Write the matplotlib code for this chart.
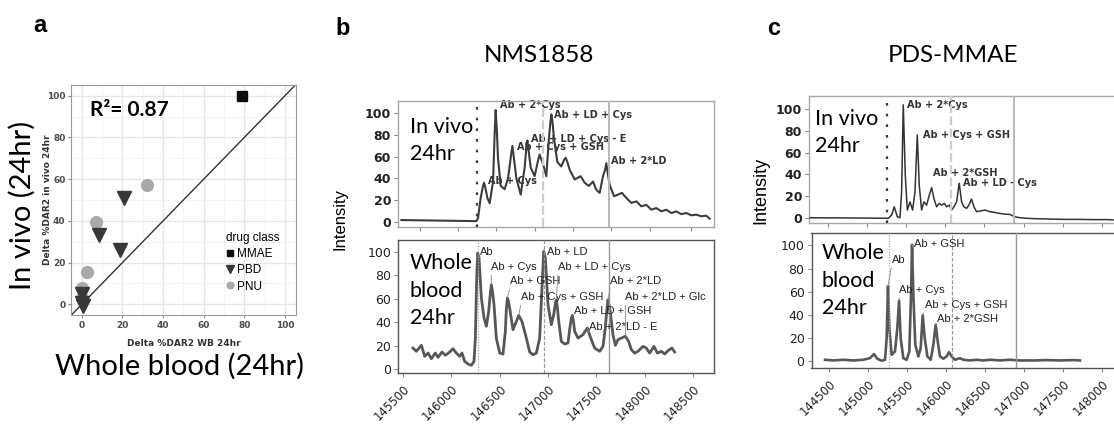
import numpy as np
import matplotlib
matplotlib.use('Agg')
import matplotlib.pyplot as plt
from matplotlib.lines import Line2D
from matplotlib.ticker import FormatStrFormatter, MultipleLocator

plt.rcParams['font.family'] = ['Liberation Sans', 'DejaVu Sans']

# ---- a: delta %DAR2, whole blood vs in vivo (24hr)
mmae_wb = [79]
mmae_vivo = [100]
pbd_wb = [21, 8.5, 19, 0, 0, 0.5]
pbd_vivo = [51, 33, 26, 5, 0.5, -1]
pnu_wb = [32, 7, 2.8, 0.2, 0]
pnu_vivo = [57, 39.5, 15.6, 7.8, 3]
r2_text = 'R²= 0.87'

# ---- b: NMS1858 deconvoluted spectra
nms_vivo_mass = [145483, 145900, 146258, 146276, 146303, 146325, 146338, 146350, 146372, 146396,
                 146431, 146447, 146458, 146470, 146482, 146510, 146551, 146586, 146618, 146631,
                 146645, 146672, 146717, 146758, 146775, 146786, 146798, 146820, 146861, 146900,
                 146913, 146928, 146948, 146982, 147006, 147022, 147034, 147046, 147061, 147096,
                 147137, 147165, 147182, 147200, 147223, 147275, 147337, 147378, 147420, 147465,
                 147499, 147534, 147568, 147590, 147602, 147615, 147637, 147682, 147723, 147764,
                 147809, 147861, 147913, 147964, 148016, 148068, 148119, 148171, 148223, 148275,
                 148326, 148378, 148430, 148481, 148533, 148585, 148636, 148671]
nms_vivo_int = [1.5, 1.0, 0.5, 3.4, 22, 32, 36, 32, 22, 17,
                37, 80, 103, 85, 59, 33, 30, 40, 62, 70,
                60, 40, 25, 50, 68, 75, 66, 50, 42, 58,
                62, 58, 53, 42, 74, 90, 99, 92, 77, 55,
                51, 57, 59, 55, 48, 39, 42, 36, 33, 37,
                29.5, 26.6, 42, 48, 54, 46, 34, 23.5, 25, 26.6,
                22, 17.3, 18.8, 14.2, 15.5, 11.1, 12.6, 9.6, 11, 8,
                9.5, 7, 8, 5.9, 6.5, 5, 5.5, 2.8]
nms_wb_mass = [145603, 145638, 145690, 145724, 145759, 145793, 145834, 145862, 145903, 145938,
               145983, 146017, 146051, 146086, 146110, 146138, 146172, 146207, 146234, 146248,
               146262, 146272, 146286, 146310, 146338, 146362, 146386, 146400, 146413, 146426,
               146441, 146465, 146500, 146534, 146558, 146568, 146579, 146590, 146603, 146637,
               146672, 146696, 146730, 146775, 146810, 146844, 146879, 146913, 146937, 146955,
               146972, 146999, 147034, 147058, 147072, 147085, 147097, 147110, 147137, 147172,
               147206, 147230, 147240, 147251, 147262, 147275, 147310, 147361, 147406, 147441,
               147482, 147534, 147568, 147592, 147607, 147620, 147633, 147647, 147671, 147696,
               147723, 147758, 147799, 147833, 147861, 147895, 147930, 147982, 148016, 148051,
               148095, 148130, 148171, 148206, 148240, 148281, 148309]
nms_wb_int = [17.9, 15.1, 20.2, 10.8, 13.6, 8.8, 13.6, 9.9, 14.5, 11.7,
              14.5, 17.3, 13.6, 10.8, 13.6, 6.5, 4.3, 3.1, 6.5, 26.4,
              77.6, 98.9, 94.6, 60.5, 43.5, 36.4, 49.2, 62, 71.9, 66,
              54.8, 26.4, 13.6, 12.8, 32.1, 50, 60.5, 58, 52, 33.5,
              40.6, 45.8, 40.6, 26.4, 14.5, 12.2, 13.6, 26.4, 69.1, 100.3,
              94.6, 54.8, 37.8, 46.3, 54, 59.1, 52, 40.6, 23.6, 21.3,
              22.2, 37.8, 43, 45.8, 41, 32.1, 26.4, 29.3, 35, 26.4,
              17.9, 15.1, 19.3, 35, 50, 59.1, 54, 46.3, 29.3, 20.2,
              25, 26.4, 27.9, 23.6, 16.5, 13.6, 15.1, 19.3, 17.9, 13.6,
              19.3, 13.6, 15.1, 12.8, 15.6, 17.9, 14.5]
nms_vivo_marks = [146262, 146950, 147625]
nms_wb_marks = [146272, 146958, 147630]
nms_vivo_labels = [('Ab + 2*Cys', 146500, 107.5), ('Ab + LD + Cys', 147061, 98.8),
                   ('Ab + LD + Cys - E', 146827, 76.6), ('Ab + Cys + GSH', 146679, 68.7),
                   ('Ab + 2*LD', 147654, 55.7), ('Ab + Cys', 146379, 37.8)]
# label, peak mass, text mass, text intensity
nms_wb_labels = [('Ab', 146272, 146293, 99.7), ('Ab + Cys', 146413, 146413, 86.7),
                 ('Ab + GSH', 146579, 146610, 74.8), ('Ab + Cys + GSH', 146696, 146723, 61.1),
                 ('Ab + LD', 146955, 146992, 99.7), ('Ab + LD + Cys', 147085, 147103, 86.7),
                 ('Ab + LD + GSH', 147251, 147265, 49.2), ('Ab + 2*LD', 147620, 147644, 74.8),
                 ('Ab + 2*LD + Glc', 147799, 147800, 61.1), ('Ab + 2*LD - E', 147406, 147420, 35.5)]

# ---- c: PDS-MMAE deconvoluted spectra
pds_vivo_mass = [144266, 144800, 145268, 145311, 145345, 145384, 145418, 145439, 145460, 145486,
                 145512, 145546, 145580, 145610, 145640, 145665, 145695, 145725, 145759, 145793,
                 145823, 145853, 145887, 145921, 145951, 145985, 146015, 146049, 146079, 146109,
                 146143, 146177, 146207, 146237, 146271, 146301, 146335, 146365, 146399, 146442,
                 146506, 146570, 146634, 146698, 146762, 146826, 146890, 146954, 147039, 147124,
                 147252, 147380, 147551, 147722, 147892, 148063, 148148]
pds_vivo_int = [0.5, 0.3, 0, 2.9, 10.5, 1.4, 0.5, 24, 103.5, 39.5,
                7.5, 15, 7.5, 24, 76, 30, 7.5, 15, 12, 21,
                28, 18, 10.5, 13.6, 12, 13.6, 10.5, 12, 7.5, 10.5,
                15, 32, 15, 10.5, 9, 12, 17.5, 10.5, 6, 6.6,
                7.5, 6, 5.3, 4.4, 3.8, 3.5, 1.4, 0.5, 0, -0.3,
                -0.5, -0.8, -1, -1, -1.2, -1.2, -1.5]
pds_wb_mass = [144445, 144552, 144680, 144809, 144937, 145023, 145074, 145117, 145173, 145216,
               145237, 145254, 145271, 145301, 145344, 145374, 145396, 145417, 145451, 145494,
               145528, 145550, 145563, 145580, 145605, 145644, 145674, 145700, 145726, 145760,
               145803, 145837, 145867, 145893, 145922, 145965, 146008, 146038, 146072, 146115,
               146180, 146222, 146308, 146394, 146479, 146565, 146693, 146822, 146951, 147122,
               147293, 147464, 147636, 147721]
pds_wb_int = [1.4, 0.8, 1.4, 0.8, 1.4, 2.8, 6.3, 2.3, 0.5, 1.4,
              20.1, 64.7, 28.7, 5.7, 8.6, 28.7, 52.3, 20.1, 2.8, 1.4,
              8.6, 57.4, 100.5, 57.4, 14.3, 4.3, 11.5, 39.7, 20.1, 4.3,
              1.4, 14.3, 31.6, 17.2, 4.3, 2.3, 4.3, 8, 4.3, 1.4,
              2.8, 1.4, 0.8, 1.4, 0.8, 1.4, 0.8, 1.4, 0.8, 0.8,
              1.1, 0.8, 1.1, 0.8]
pds_vivo_marks = [145255, 146070, 146880]
pds_wb_marks = [145270, 146080, 146900]
pds_vivo_labels = [('Ab + 2*Cys', 145511, 103.7), ('Ab + Cys + GSH', 145708, 76.2),
                   ('Ab + 2*GSH', 145844, 41.4), ('Ab + LD - Cys', 146228, 32.3)]
pds_wb_labels = [('Ab', 145254, 145302, 87.6), ('Ab + GSH', 145563, 145588, 101),
                 ('Ab + Cys', 145396, 145400, 61.7), ('Ab + Cys + GSH', 145700, 145730, 48.3),
                 ('Ab + 2*GSH', 145867, 145880, 36.7)]

W, H = 1114, 426
fig = plt.figure(figsize=(W / 100, H / 100), dpi=100)


def add_px_axes(left, top, right, bottom):
    return fig.add_axes([left / W, 1 - bottom / H, (right - left) / W, (bottom - top) / H])


# ================= panel a
ax = add_px_axes(71, 85, 296, 315)
ax.plot(pnu_wb, pnu_vivo, ls='none', marker='o', ms=8.5, color='#a9a9a9', zorder=3)
ax.plot(pbd_wb, pbd_vivo, ls='none', marker='v', ms=9.5, color='#383838', zorder=4)
ax.plot(mmae_wb, mmae_vivo, ls='none', marker='s', ms=7.2, color='#0d0d0d', zorder=5)
ax.axline((0, 0), slope=1, color='#333333', lw=1.0, zorder=2)
ax.set_xlim(-5.3, 105.4)
ax.set_ylim(-5.1, 105.1)
ax.set_xticks(range(0, 101, 20))
ax.set_yticks(range(0, 101, 20))
ax.xaxis.set_minor_locator(MultipleLocator(10))
ax.yaxis.set_minor_locator(MultipleLocator(10))
ax.grid(which='major', color='#e6e6e6', lw=1.0)
ax.grid(which='minor', color='#f3f3f3', lw=0.6)
ax.set_axisbelow(True)
for s in ax.spines.values():
    s.set_color('#9a9a9a')
ax.tick_params(which='minor', length=0)
ax.tick_params(which='major', length=2.5, color='#888888', labelsize=6.5,
               labelcolor='#4d4d4d', pad=1.5, labelfontfamily='DejaVu Sans')
plt.setp(ax.get_xticklabels() + ax.get_yticklabels(), fontweight='bold')
ax.set_xlabel('Delta %DAR2 WB 24hr', fontsize=6.5, fontweight='bold', color='#333333',
              family='DejaVu Sans')
ax.set_ylabel('Delta %DAR2 in vivo 24hr', fontsize=6.5, fontweight='bold', color='#333333',
              family='DejaVu Sans')
ax.xaxis.set_label_coords(0.5, -0.105)
ax.yaxis.set_label_coords(-0.085, 0.5)
ax.text(4.1, 92.9, r2_text, fontsize=15, fontweight='bold', family='Lato', va='center')
handles = [Line2D([], [], ls='none', marker='s', ms=4.2, color='#0d0d0d'),
           Line2D([], [], ls='none', marker='v', ms=5.5, color='#383838'),
           Line2D([], [], ls='none', marker='o', ms=4.8, color='#a9a9a9')]
ax.legend(handles, ['MMAE', 'PBD', 'PNU'], title='drug class', loc='upper left',
          bbox_to_anchor=(0.69, 0.36), frameon=False, fontsize=8.5, title_fontsize=8.5,
          handlelength=0.7, handletextpad=0.2, labelspacing=0.35, borderpad=0,
          borderaxespad=0, alignment='left')

fig.text(33 / W, 1 - 32 / H, 'a', fontsize=17, fontweight='bold', va='baseline')
fig.text(22 / W, 1 - 205 / H, 'In vivo (24hr)', family='Lato', fontsize=21, rotation=90,
         ha='center', va='center')
fig.text(179.5 / W, 1 - 366 / H, 'Whole blood (24hr)', family='Lato', fontsize=21,
         ha='center', va='center')


# ================= spectra helpers
def peak_at(mass, inten, m):
    i = int(np.argmin(np.abs(np.asarray(mass) - m)))
    return mass[i], inten[i]


def draw_spectrum(ax, mass, inten, marks, upper, color, lw, xlim, ylim, xticks):
    ax.plot(mass, inten, color=color, lw=lw, zorder=3, solid_joinstyle='round')
    if upper:
        ax.axvline(marks[0], color='#3a3a3a', lw=1.6, ls=(0, (1.2, 3.6)), zorder=4)
        ax.axvline(marks[1], color='#cdcdcd', lw=1.6, ls=(0, (4, 1.5)), zorder=4)
        ax.axvline(marks[2], color='#b8b8b8', lw=1.4, zorder=4)
        frame = '#a8a8a8'
    else:
        ax.axvline(marks[0], color='#aaaaaa', lw=0.9, ls=(0, (1, 1.2)), zorder=4)
        ax.axvline(marks[1], color='#9a9a9a', lw=0.9, ls=(0, (3, 1.5)), zorder=4)
        ax.axvline(marks[2], color='#999999', lw=1.0, zorder=4)
        frame = '#555555'
    ax.set_xlim(xlim)
    ax.set_ylim(ylim)
    ax.set_xticks(xticks)
    ax.set_yticks(range(0, 101, 20))
    ax.xaxis.set_major_formatter(FormatStrFormatter('%d'))
    for s in ax.spines.values():
        s.set_color(frame)
        s.set_linewidth(1.0)
    ax.tick_params(direction='out', length=3, width=0.8, color='#888888', labelcolor='#222222',
                   labelsize=9, pad=2, labelfontfamily='DejaVu Sans')
    if upper:
        plt.setp(ax.get_yticklabels(), fontweight='bold')
        ax.tick_params(axis='x', labelbottom=False)
    else:
        ax.tick_params(axis='x', labelrotation=45, pad=4, labelsize=8.5)
        plt.setp(ax.get_xticklabels(), ha='right', va='top', rotation_mode='anchor')


def bold_labels(ax, labels):
    for text, m, y in labels:
        ax.text(m, y, text, fontsize=7, fontweight='bold', family='DejaVu Sans',
                color='#333333', ha='left', va='center', zorder=2)


def leader_labels(ax, mass, inten, labels):
    for text, pm, tm, ty in labels:
        px, py = peak_at(mass, inten, pm)
        ax.annotate(text, xy=(px, py), xytext=(tm, ty), fontsize=8, color='#222222',
                    ha='left', va='center', zorder=5,
                    arrowprops=dict(arrowstyle='-', color='#888888', lw=0.6,
                                    relpos=(0, 0), shrinkA=0, shrinkB=0))


# ================= panel b
b_top = add_px_axes(398, 101, 714, 227)
draw_spectrum(b_top, nms_vivo_mass, nms_vivo_int, nms_vivo_marks, True, '#3c3c3c', 1.5,
              (145448, 148716), (-4.9, 111.4),
              [145673, 146069, 146462, 146865, 147258, 147651, 148055, 148478])
bold_labels(b_top, nms_vivo_labels)
b_top.text(0.037, 0.685, 'In vivo\n24hr', transform=b_top.transAxes, family='Lato',
           fontsize=15.5, ha='left', va='center', linespacing=1.45)

b_bot = add_px_axes(398, 240, 714, 373)
draw_spectrum(b_bot, nms_wb_mass, nms_wb_int, nms_wb_marks, False, '#575757', 2.0,
              (145448, 148716), (-3.4, 110), range(145500, 148501, 500))
leader_labels(b_bot, nms_wb_mass, nms_wb_int, nms_wb_labels)
b_bot.text(0.037, 0.62, 'Whole\nblood\n24hr', transform=b_bot.transAxes, family='Lato',
           fontsize=15.5, ha='left', va='center', linespacing=1.45)

fig.text(335 / W, 1 - 35 / H, 'b', fontsize=17, fontweight='bold', va='baseline')
fig.text(539 / W, 1 - 62 / H, 'NMS1858', family='Lato', fontsize=17.5, ha='center',
         va='baseline')
fig.text(340 / W, 1 - 219 / H, 'Intensity', fontsize=12, rotation=90, ha='center',
         va='center')

# ================= panel c
c_top = add_px_axes(809, 96, 1118, 223)
draw_spectrum(c_top, pds_vivo_mass, pds_vivo_int, pds_vivo_marks, True, '#333333', 1.1,
              (144253, 148210), (-4.3, 111.6), range(144500, 148001, 500))
bold_labels(c_top, pds_vivo_labels)
c_top.text(0.0195, 0.71, 'In vivo\n24hr', transform=c_top.transAxes, family='Lato',
           fontsize=15.5, ha='left', va='center', linespacing=1.45)

c_bot = add_px_axes(811.5, 233, 1118, 368)
draw_spectrum(c_bot, pds_wb_mass, pds_wb_int, pds_wb_marks, False, '#575757', 1.9,
              (144271, 148210), (-5.7, 110.6), range(144500, 148001, 500))
leader_labels(c_bot, pds_wb_mass, pds_wb_int, pds_wb_labels)
c_bot.text(0.033, 0.648, 'Whole\nblood\n24hr', transform=c_bot.transAxes, family='Lato',
           fontsize=15.5, ha='left', va='center', linespacing=1.45)

fig.text(767 / W, 1 - 35 / H, 'c', fontsize=17, fontweight='bold', va='baseline')
fig.text(953.5 / W, 1 - 62 / H, 'PDS-MMAE', family='Lato', fontsize=17.5, ha='center',
         va='baseline')
fig.text(761 / W, 1 - 190 / H, 'Intensity', fontsize=13, rotation=90, ha='center',
         va='center')

fig.savefig('out.png', dpi=100)
